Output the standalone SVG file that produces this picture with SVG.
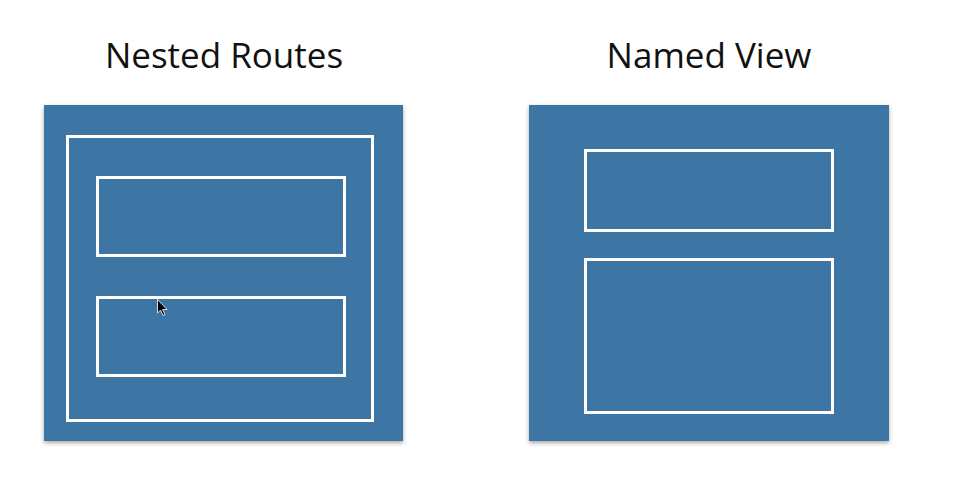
<svg xmlns="http://www.w3.org/2000/svg" width="980" height="504" viewBox="0 0 980 504">
<style>
.title{font-family:"Open Sans","Liberation Sans",sans-serif;font-size:35px;fill:#111;text-anchor:middle}
.panel{fill:#3e76a5}
.frame{fill:none;stroke:#fff;stroke-width:3}
</style>
<defs>
<filter id="sh" x="-5%" y="-5%" width="110%" height="115%">
<feDropShadow dx="0" dy="2" stdDeviation="2" flood-color="#000" flood-opacity="0.35"/>
</filter>
</defs>
<rect width="980" height="504" fill="#fff"/>
<g id="nested-routes">
<text class="title" x="224" y="68">Nested Routes</text>
<rect class="panel" x="44" y="105" width="359" height="336" filter="url(#sh)"/>
<rect class="frame" x="67.5" y="136.5" width="305" height="284"/>
<rect class="frame" x="97.5" y="177.5" width="247" height="78"/>
<rect class="frame" x="97.5" y="297.5" width="247" height="78"/>
<path d="M157.5 299.5 L157.5 313 L160.5 310 L163 315.5 L165 314.5 L162.5 309.5 L167 309.5 Z" fill="#000" stroke="#fff" stroke-width="0.8"/>
</g>
<g id="named-view">
<text class="title" x="709" y="68">Named View</text>
<rect class="panel" x="529" y="105" width="360" height="336" filter="url(#sh)"/>
<rect class="frame" x="585.5" y="150.5" width="247" height="80"/>
<rect class="frame" x="585.5" y="259.5" width="247" height="153"/>
</g>
<g id="connectors"></g>
</svg>
